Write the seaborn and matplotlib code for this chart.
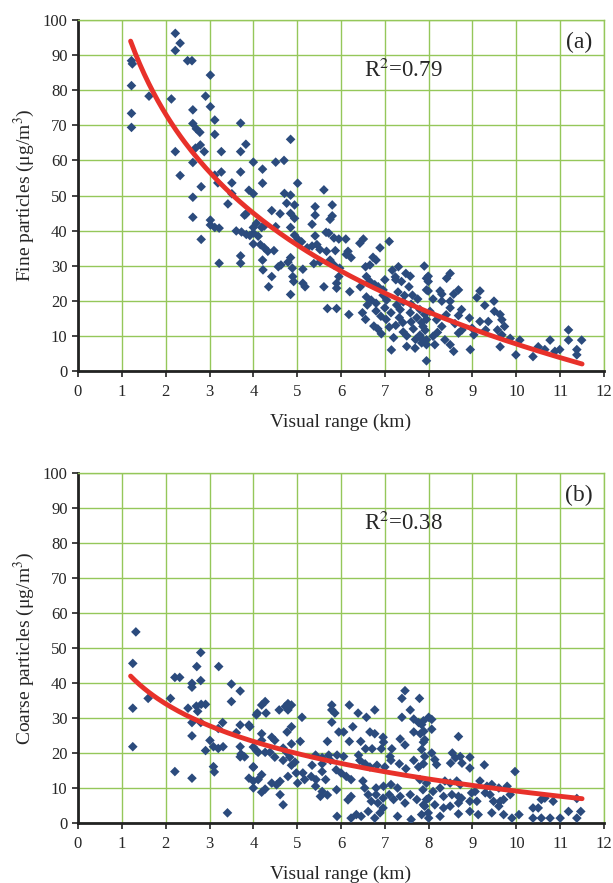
import numpy as np
import pandas as pd
import matplotlib
matplotlib.use("Agg")
import matplotlib.pyplot as plt
import seaborn as sns

# ---------------- data ----------------
fine_x = [2.22, 2.33, 2.22, 1.22, 1.24, 2.5, 2.6, 3.02, 1.22, 1.62, 2.13, 2.91, 3.02, 1.22, 2.62,
          3.12, 1.22, 2.62, 2.70, 2.78, 3.71, 3.12, 3.83, 3.71, 2.22, 2.68, 2.79, 2.88, 3.27, 4.0,
          2.62, 3.12, 3.27, 3.71, 2.33, 3.51, 3.19, 2.81, 3.90, 4.0, 3.51, 2.62, 3.42, 3.83, 2.62,
          3.02, 3.02, 3.12, 3.22, 3.61, 3.73, 3.84, 3.92, 3.80, 4.0, 2.81, 4.0, 3.71, 3.22, 3.71,
          4.51, 4.21, 4.21, 5.01, 5.61, 4.71, 4.76, 4.85, 4.94, 5.80, 4.42, 4.61, 4.85, 4.94, 5.41,
          5.41, 5.75, 5.80, 4.07, 4.25, 4.19, 4.51, 4.85, 5.34, 4.0, 4.11, 5.66, 5.72, 5.41, 4.94,
          5.02, 5.10, 5.84, 5.95, 6.11, 6.51, 6.43, 7.10, 4.16, 4.25, 4.33, 4.47, 5.23, 5.34, 5.45,
          5.52, 5.67, 5.87, 6.16, 6.12, 6.23, 6.89, 4.21, 4.85, 4.79, 4.63, 4.57, 5.38, 5.52, 5.75,
          5.84, 6.73, 6.80, 6.56, 6.66, 4.22, 4.89, 5.13, 5.97, 7.31, 7.48, 7.58, 7.90, 7.95, 7.17,
          7.24, 4.42, 4.90, 4.92, 5.95, 6.58, 6.66, 6.77, 6.44, 7.25, 7.38, 4.35, 4.85, 5.13, 5.18,
          5.61, 5.90, 5.90, 6.20, 6.85, 6.96, 7.55, 7.63, 7.95, 6.58, 6.69, 6.80, 6.96, 7.04, 7.27,
          7.42, 5.69, 5.90, 6.18, 6.49, 6.56, 6.80, 6.91, 7.03, 7.14, 7.33, 7.41, 7.58, 7.73, 7.84,
          7.95, 6.84, 6.92, 7.42, 7.65, 7.80, 7.92, 7.50, 7.69, 7.84, 7.95, 7.95, 7.99, 7.99, 8.49,
          8.41, 8.68, 7.99, 8.26, 8.30, 8.57, 9.17, 9.10, 9.49, 9.28, 8.30, 8.49, 8.49, 8.75, 8.68,
          7.80, 7.91, 8.03, 8.18, 8.30, 8.93, 9.17, 9.36, 9.50, 9.63, 9.67, 9.73, 9.57, 9.67, 9.30,
          8.99, 9.03, 8.76, 8.68, 7.87, 7.87, 7.95, 8.10, 8.14, 8.37, 8.49, 8.57, 8.95, 9.86, 10.08,
          9.63, 9.99, 10.38, 10.50, 10.65, 10.77, 10.88, 10.99, 11.19, 11.19, 11.38, 11.38, 11.49,
          7.1, 7.2, 7.3, 7.6, 7.7, 7.0, 7.35, 7.6, 7.15, 6.75, 7.45, 7.75, 8.1, 8.2, 8.4, 8.6, 7.25,
          7.0, 7.5, 6.6, 4.85, 4.7]
fine_y = [96.2, 93.4, 91.3, 88.4, 87.5, 88.4, 88.4, 84.3, 81.3, 78.3, 77.5, 78.3, 75.3, 73.4, 74.4,
          71.5, 69.4, 70.5, 69.0, 68.0, 70.6, 67.4, 64.6, 62.5, 62.5, 63.5, 64.4, 62.5, 62.5, 59.5,
          59.4, 55.8, 56.7, 56.7, 55.7, 53.6, 53.6, 52.5, 51.5, 50.5, 50.5, 49.5, 47.6, 44.7, 43.8,
          43.0, 41.6, 40.9, 40.7, 39.9, 39.6, 38.9, 38.6, 44.4, 40.9, 37.5, 36.2, 32.8, 30.7, 30.7,
          59.5, 57.5, 53.5, 53.5, 51.6, 50.6, 47.8, 50.1, 47.3, 47.3, 45.7, 44.8, 44.9, 43.5, 46.8,
          44.4, 43.2, 44.2, 42.1, 41.3, 40.9, 41.1, 40.9, 41.8, 39.3, 38.4, 39.5, 39.3, 38.5, 38.7,
          37.5, 36.8, 37.9, 37.6, 37.6, 37.6, 36.4, 36.9, 36.0, 35.1, 34.1, 34.3, 35.1, 35.6, 36.0,
          34.6, 34.1, 34.3, 34.1, 33.2, 32.3, 35.1, 31.6, 32.3, 31.0, 30.2, 29.7, 30.6, 31.1, 31.6,
          30.2, 32.4, 31.6, 29.7, 30.2, 28.8, 29.3, 29.0, 29.3, 29.7, 27.8, 27.0, 29.9, 26.4, 28.7,
          26.8, 26.9, 26.9, 25.5, 26.9, 26.9, 25.5, 24.6, 24.0, 26.0, 25.5, 24.0, 21.8, 25.0, 24.0,
          24.0, 25.0, 23.6, 22.6, 24.0, 23.1, 24.0, 21.6, 23.1, 21.1, 20.2, 19.3, 21.6, 20.2, 18.8,
          19.7, 17.8, 17.8, 16.1, 16.6, 14.7, 17.1, 15.6, 14.7, 16.6, 15.2, 13.8, 16.6, 15.2, 13.8,
          14.7, 12.0, 10.6, 11.1, 12.0, 10.2, 11.6, 7.0, 6.5, 8.0, 8.9, 2.9, 27.0, 25.5, 27.8,
          26.4, 23.1, 22.8, 22.8, 21.9, 21.9, 22.8, 20.9, 19.9, 18.7, 19.9, 19.9, 18.0, 17.5, 15.8,
          17.5, 16.1, 17.0, 14.6, 12.7, 15.1, 14.1, 14.1, 17.0, 16.1, 14.6, 12.7, 11.7, 10.3, 11.7,
          12.2, 10.3, 11.7, 10.8, 12.7, 8.9, 7.5, 9.9, 7.5, 8.9, 7.5, 5.6, 6.1, 9.3, 8.8,
          6.9, 4.6, 4.1, 6.9, 6.1, 8.8, 5.6, 6.1, 11.7, 8.8, 6.1, 4.6, 8.8,
          12.5, 9.5, 22.5, 19.0, 9.0, 18.0, 17.5, 14.0, 6.0, 12.8, 21.5, 20.5, 20.5, 11.0, 16.0, 13.5, 13.0,
          26.0, 10.0, 18.8, 66.0, 60.0]

coarse_x = [1.32, 1.25, 2.80, 2.71, 3.21, 2.21, 2.32, 2.60, 2.60, 2.80, 3.50, 3.70, 1.60, 2.11, 3.50,
            1.25, 2.51, 2.70, 2.81, 2.91, 2.73, 4.07, 2.60, 2.80, 3.30, 3.20, 3.70, 3.90, 3.61, 2.60,
            1.25, 3.01, 3.09, 3.20, 3.31, 2.91, 3.70, 3.72, 3.80, 3.70, 4.07, 4.0, 3.09, 3.11, 2.21,
            2.60, 3.90, 4.0, 4.0, 3.41, 7.46, 7.39, 7.79, 4.27, 4.19, 4.79, 4.87, 4.73, 5.79, 5.79,
            5.86, 6.19, 4.59, 4.79, 4.09, 4.29, 6.39, 6.58, 6.77, 5.11, 7.39, 7.58, 7.66, 7.77, 7.88,
            8.0, 3.92, 4.87, 4.77, 5.79, 6.27, 5.95, 6.06, 6.66, 6.77, 6.96, 7.66, 7.81, 7.88, 4.19,
            4.19, 4.42, 4.49, 4.87, 5.07, 5.69, 6.19, 6.45, 6.56, 6.71, 6.92, 6.97, 7.16, 7.35, 7.46,
            4.0, 4.11, 4.27, 4.38, 4.49, 4.68, 4.76, 4.83, 4.68, 4.87, 4.95, 5.42, 5.57, 5.72, 5.91,
            6.06, 5.34, 5.57, 5.76, 6.40, 6.43, 6.55, 6.66, 6.82, 7.0, 7.14, 7.12, 7.33, 7.48, 7.66,
            7.77, 7.88, 4.0, 4.19, 4.11, 4.42, 4.53, 4.61, 4.79, 4.98, 5.13, 5.01, 5.17, 5.32, 5.43,
            5.57, 5.65, 5.89, 6.0, 6.12, 6.23, 4.19, 4.27, 4.61, 5.42, 5.57, 5.69, 5.53, 5.90, 6.16,
            6.23, 6.50, 6.54, 6.62, 6.69, 6.80, 6.80, 6.84, 6.96, 6.97, 7.14, 7.29, 7.10, 7.20, 7.35,
            7.46, 7.58, 7.73, 7.88, 8.0, 4.68, 5.91, 6.23, 6.35, 6.46, 6.62, 6.77, 6.89, 6.96, 7.29,
            7.6, 7.84, 8.0, 8.07, 8.07, 7.84, 7.89, 7.91, 8.68, 7.84, 7.91, 8.07, 8.14, 8.18, 8.54,
            8.50, 8.61, 8.72, 8.76, 8.94, 8.94, 9.27, 9.97, 7.80, 7.95, 8.37, 8.49, 8.64, 8.72, 9.17,
            9.33, 9.44, 9.6, 9.79, 9.86, 7.87, 8.1, 8.26, 8.34, 8.53, 8.68, 8.75, 8.68, 8.98, 9.06,
            8.94, 9.10, 9.29, 9.4, 9.48, 9.63, 9.6, 9.71, 7.95, 7.91, 8.14, 8.34, 8.49, 7.99, 8.26,
            8.68, 8.94, 9.13, 9.44, 9.71, 9.9, 10.06, 10.38, 10.5, 10.57, 10.65, 10.84, 10.38, 10.57,
            10.77, 11.0, 11.19, 11.38, 11.38, 11.47]
coarse_y = [54.6, 45.6, 48.7, 44.7, 44.7, 41.6, 41.6, 39.9, 38.8, 40.7, 39.7, 37.7, 35.6, 35.6, 34.7,
            32.8, 32.8, 33.4, 33.9, 33.9, 31.9, 30.9, 28.7, 28.7, 28.7, 27.0, 28.0, 28.0, 25.8, 24.9,
            21.8, 23.6, 21.8, 21.3, 21.8, 20.7, 21.8, 19.7, 18.9, 18.9, 20.7, 16.1, 16.1, 14.6, 14.7,
            12.8, 12.8, 12.0, 10.0, 2.9, 37.8, 35.6, 35.6, 34.7, 33.7, 34.1, 33.7, 33.3, 33.7, 32.3,
            31.4, 33.7, 32.3, 32.3, 31.4, 31.4, 31.4, 30.2, 32.3, 30.2, 30.2, 32.3, 29.7, 28.7, 29.2,
            30.2, 27.5, 27.5, 26.0, 28.8, 27.5, 26.0, 26.0, 26.0, 25.5, 24.5, 26.0, 25.5, 23.1, 25.5,
            23.6, 24.5, 23.6, 22.6, 23.3, 23.3, 23.3, 23.3, 21.2, 21.2, 21.2, 23.1, 21.2, 24.0, 22.3,
            21.7, 20.2, 20.2, 20.2, 18.8, 21.4, 20.2, 18.8, 17.9, 16.5, 17.4, 19.4, 18.7, 19.4, 19.4,
            19.0, 16.5, 16.9, 17.9, 19.4, 17.9, 16.9, 16.0, 16.5, 16.0, 17.9, 19.0, 16.9, 15.5, 17.9,
            16.0, 16.9, 15.9, 13.8, 12.4, 11.4, 10.9, 11.9, 13.3, 14.3, 14.3, 11.4, 12.4, 13.3, 12.4,
            14.7, 12.4, 15.2, 14.3, 13.3, 12.4, 8.8, 9.7, 8.1, 10.5, 9.0, 8.0, 7.6, 9.5, 6.6,
            7.6, 12.0, 10.0, 8.1, 6.2, 10.0, 8.1, 5.7, 7.1, 10.5, 11.0, 10.0, 8.1, 6.7, 7.6,
            5.7, 8.1, 6.7, 5.2, 7.1, 5.2, 1.9, 1.4, 2.4, 1.9, 3.3, 1.4, 2.9, 4.3, 1.9,
            1.0, 2.4, 1.4, 29.6, 26.8, 28.1, 26.2, 23.8, 24.7, 21.0, 19.0, 20.0, 18.1, 16.7, 20.0,
            17.1, 18.6, 19.0, 17.1, 18.8, 15.7, 16.6, 14.7, 12.4, 11.4, 12.0, 11.4, 12.0, 11.0, 12.0,
            10.5, 11.0, 10.0, 10.5, 8.1, 9.5, 9.0, 10.0, 7.6, 8.1, 7.6, 7.1, 5.7, 8.6, 9.0,
            6.2, 6.2, 8.6, 8.1, 6.2, 6.2, 4.8, 6.7, 6.7, 4.8, 5.2, 4.3, 4.8, 2.9, 1.9,
            2.6, 3.3, 2.4, 2.9, 2.4, 1.4, 2.4, 4.3, 4.3, 6.7, 7.1, 6.2, 1.4, 1.4,
            1.4, 1.4, 3.3, 1.4, 7.0, 3.3]

# logarithmic fit: y = a + b*ln(x)
fit_fine = (101.4, -40.7)
fit_coarse = (44.8, -15.5)
fit_range = (1.2, 11.5)
panel_tags = ["(a)", "(b)"]
r2_labels = ["R$^2$=0.79", "R$^2$=0.38"]
y_labels = ["Fine particles (\u03bcg/m$^3$)", "Coarse particles (\u03bcg/m$^3$)"]
x_label = "Visual range (km)"
x_ticks = list(range(0, 13))
y_ticks = list(range(0, 101, 10))

# ---------------- style ----------------
sns.set_theme(style="white")
plt.rcParams['font.family'] = ['Liberation Serif', 'DejaVu Serif']
plt.rcParams['mathtext.fontset'] = 'stix'

POINT = "#2B4B7D"
LINE = "#E8312A"
GRID = "#95C75A"

fig = plt.figure(figsize=(6.13, 8.83), dpi=100)
L, W = 78 / 613, 526 / 613
ax_a = fig.add_axes([L, 1 - 371 / 883, W, 351 / 883])
ax_b = fig.add_axes([L, 1 - 823 / 883, W, 350 / 883])

panels = [(ax_a, fine_x, fine_y, fit_fine), (ax_b, coarse_x, coarse_y, fit_coarse)]
for i, (ax, xs, ys, fit) in enumerate(panels):
    df = pd.DataFrame({"x": xs, "y": ys})
    xf = np.linspace(fit_range[0], fit_range[1], 200)
    fdf = pd.DataFrame({"x": xf, "y": fit[0] + fit[1] * np.log(xf)})
    ax.set_axisbelow(True)
    sns.scatterplot(data=df, x="x", y="y", ax=ax, marker="D", s=24, color=POINT,
                    edgecolor="none", linewidth=0, zorder=3)
    sns.lineplot(data=fdf, x="x", y="y", ax=ax, color=LINE, linewidth=3.5, zorder=4)
    ax.set_xlim(0, 12)
    ax.set_ylim(0, 100)
    ax.set_xticks(x_ticks)
    ax.set_yticks(y_ticks)
    ax.grid(True, color=GRID, linewidth=1.0)
    for s in ("top", "right"):
        ax.spines[s].set_color(GRID)
        ax.spines[s].set_linewidth(1.0)
    for s in ("left", "bottom"):
        ax.spines[s].set_color("#222222")
        ax.spines[s].set_linewidth(2.0)
    ax.tick_params(axis="x", which="major", direction="out", length=4, width=1.2,
                   color="#222222", labelsize=12, pad=5, bottom=True)
    ax.tick_params(axis="y", which="major", direction="out", length=4.5, width=1.2,
                   color="#222222", labelsize=12, pad=3, left=True)
    ax.set_xlabel(x_label, fontsize=14, labelpad=10)
    ax.set_ylabel(y_labels[i], fontsize=14, labelpad=4)
    ax.text(0.978, 0.935, panel_tags[i], transform=ax.transAxes, ha="right", va="center",
            fontsize=17)
    ax.text(0.618, 0.855, r2_labels[i], transform=ax.transAxes, ha="center", va="center",
            fontsize=16.5)

fig.savefig("out.png", dpi=100)
